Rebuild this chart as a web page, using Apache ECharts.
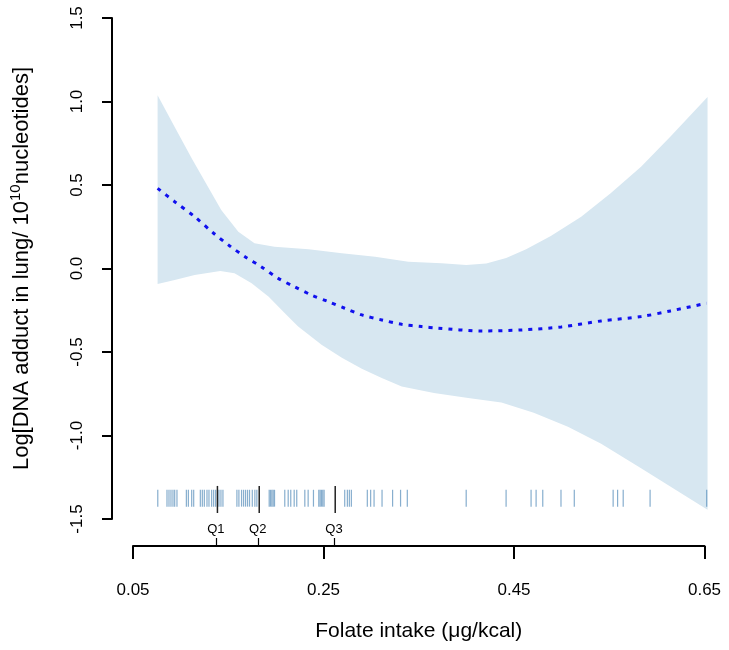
<!DOCTYPE html>
<html><head><meta charset="utf-8">
<script src="https://cdn.jsdelivr.net/npm/echarts@6/dist/echarts.min.js"></script>
<style>html,body{margin:0;padding:0;background:#fff}#c{width:729px;height:650px}</style>
</head><body><div id="c"></div>
<script>
const xTicks = [0.05, 0.25, 0.45, 0.65];
const yTicks = [-1.5, -1.0, -0.5, 0.0, 0.5, 1.0, 1.5];
const quartileX = [0.137, 0.181, 0.261];
const quartileLabels = ['Q1', 'Q2', 'Q3'];

const curveX = [0.074, 0.092, 0.113, 0.133, 0.150, 0.166, 0.183, 0.201, 0.218, 0.236, 0.254, 0.271, 0.289, 0.310, 0.331, 0.352, 0.369, 0.415, 0.457, 0.499, 0.541, 0.583, 0.614, 0.652];
const curveY = [0.480, 0.400, 0.310, 0.211, 0.135, 0.071, 0.011, -0.059, -0.109, -0.159, -0.199, -0.238, -0.278, -0.308, -0.334, -0.348, -0.357, -0.374, -0.368, -0.350, -0.314, -0.288, -0.254, -0.208];

const upperX = [0.074, 0.092, 0.110, 0.127, 0.141, 0.159, 0.176, 0.197, 0.233, 0.268, 0.303, 0.338, 0.373, 0.399, 0.420, 0.441, 0.462, 0.488, 0.520, 0.551, 0.583, 0.614, 0.653];
const upperY = [1.038, 0.848, 0.659, 0.489, 0.350, 0.220, 0.151, 0.130, 0.115, 0.091, 0.071, 0.041, 0.031, 0.021, 0.030, 0.063, 0.115, 0.195, 0.310, 0.450, 0.609, 0.790, 1.027];

const lowerX = [0.074, 0.092, 0.113, 0.140, 0.155, 0.173, 0.191, 0.208, 0.222, 0.247, 0.268, 0.289, 0.310, 0.331, 0.365, 0.401, 0.436, 0.470, 0.506, 0.541, 0.583, 0.653];
const lowerY = [-0.093, -0.069, -0.039, -0.015, -0.029, -0.089, -0.169, -0.268, -0.348, -0.458, -0.535, -0.601, -0.655, -0.707, -0.745, -0.776, -0.803, -0.864, -0.947, -1.049, -1.196, -1.444];

const rugX = [0.0742, 0.0839, 0.0860, 0.0881, 0.0902, 0.0920, 0.0944, 0.1043, 0.1064, 0.1099, 0.1120, 0.1190, 0.1211, 0.1232, 0.1260, 0.1281, 0.1309, 0.1330, 0.1351, 0.1386, 0.1407, 0.1428, 0.1575, 0.1596, 0.1624, 0.1645, 0.1666, 0.1687, 0.1708, 0.1737, 0.1764, 0.1785, 0.1915, 0.1929, 0.1943, 0.1957, 0.1971, 0.2079, 0.2115, 0.2142, 0.2178, 0.2205, 0.2290, 0.2325, 0.2381, 0.2437, 0.2451, 0.2465, 0.2479, 0.2493, 0.2710, 0.2738, 0.2759, 0.2780, 0.2948, 0.2983, 0.3019, 0.3103, 0.3214, 0.3298, 0.3369, 0.3989, 0.4409, 0.4672, 0.4725, 0.4795, 0.4987, 0.5127, 0.5536, 0.5583, 0.5642, 0.5925, 0.6521];

const FONT = '"Liberation Sans", Arial, Helvetica, sans-serif';
const RUG_TOP = -1.325, RUG_BOT = -1.426;
const Q_TOP = -1.302, Q_BOT = -1.464;

const chart = echarts.init(document.getElementById('c'), null, {renderer: 'canvas'});
const option = {
  animation: false,
  backgroundColor: '#fff',
  grid: [
    {left: 110, right: 1.5, top: 18, bottom: 131},
    {left: 133, right: 24.5, top: 520, bottom: 104}
  ],
  xAxis: [
    {gridIndex: 0, type: 'value', min: 0.026, max: 0.674, show: false},
    {gridIndex: 1, type: 'value', min: 0.05, max: 0.65, position: 'bottom',
     axisLine: {show: true, onZero: false, lineStyle: {color: '#000', width: 2}},
     axisTick: {show: true, length: 13, customValues: xTicks, lineStyle: {color: '#000', width: 2}},
     axisLabel: {customValues: xTicks, formatter: v => v.toFixed(2), margin: 36, fontSize: 17, color: '#000', fontFamily: FONT},
     splitLine: {show: false},
     name: 'Folate intake (μg/kcal)', nameLocation: 'middle', nameGap: 75,
     nameTextStyle: {fontSize: 21, color: '#000', fontFamily: FONT}},
    {gridIndex: 1, type: 'value', min: 0.05, max: 0.65, position: 'bottom',
     axisLine: {show: false, onZero: false},
     axisTick: {show: true, inside: true, length: 8, customValues: quartileX, lineStyle: {color: '#000', width: 1.2}},
     axisLabel: {inside: true, customValues: quartileX, margin: 10, fontSize: 13, color: '#000', fontFamily: FONT,
       formatter: v => { for (let i = 0; i < quartileX.length; i++) { if (Math.abs(v - quartileX[i]) < 1e-9) return quartileLabels[i]; } return ''; }},
     splitLine: {show: false}}
  ],
  yAxis: [
    {gridIndex: 0, type: 'value', min: -1.5, max: 1.5,
     axisLine: {show: true, onZero: false, lineStyle: {color: '#000', width: 2}},
     axisTick: {show: true, length: 10, customValues: yTicks, lineStyle: {color: '#000', width: 2}},
     axisLabel: {customValues: yTicks, rotate: 90, formatter: v => v.toFixed(1), margin: 26, fontSize: 17, color: '#000', fontFamily: FONT},
     splitLine: {show: false},
     name: '{a|Log[DNA adduct in lung/ 10}{s|10}{a|nucleotides]}',
     nameLocation: 'middle', nameGap: 77, nameRotate: 90,
     nameTextStyle: {color: '#000', fontFamily: FONT, fontSize: 22,
       rich: {
         a: {fontSize: 22, fontFamily: FONT, color: '#000', lineHeight: 27, verticalAlign: 'middle'},
         s: {fontSize: 15, fontFamily: FONT, color: '#000', lineHeight: 12, verticalAlign: 'top'}
       }}},
    {gridIndex: 1, type: 'value', min: 0, max: 1, show: false}
  ],
  series: [
    {type: 'custom', xAxisIndex: 0, yAxisIndex: 0, silent: true, z: 1,
     data: [[0, 0]],
     renderItem: (params, api) => {
       const pts = [];
       for (let i = 0; i < upperX.length; i++) pts.push(api.coord([upperX[i], upperY[i]]));
       for (let i = lowerX.length - 1; i >= 0; i--) pts.push(api.coord([lowerX[i], lowerY[i]]));
       return {type: 'polygon', shape: {points: pts}, style: {fill: '#d7e7f1', stroke: null}};
     }},
    {type: 'line', xAxisIndex: 0, yAxisIndex: 0, silent: true, z: 3, smooth: 0.3, symbol: 'none',
     data: curveX.map((x, i) => [x, curveY[i]]),
     lineStyle: {color: '#1010ee', width: 3, type: [4, 6]}},
    {type: 'custom', xAxisIndex: 0, yAxisIndex: 0, silent: true, z: 2,
     data: rugX.map(x => [x, 0]),
     renderItem: (params, api) => {
       const a = api.coord([api.value(0), RUG_TOP]);
       const b = api.coord([api.value(0), RUG_BOT]);
       return {type: 'line', shape: {x1: a[0], y1: a[1], x2: b[0], y2: b[1]}, style: {stroke: 'rgba(70,130,180,0.65)', lineWidth: 1.2}};
     }},
    {type: 'custom', xAxisIndex: 0, yAxisIndex: 0, silent: true, z: 4,
     data: quartileX.map(x => [x, 0]),
     renderItem: (params, api) => {
       const a = api.coord([api.value(0), Q_TOP]);
       const b = api.coord([api.value(0), Q_BOT]);
       return {type: 'line', shape: {x1: a[0], y1: a[1], x2: b[0], y2: b[1]}, style: {stroke: '#222', lineWidth: 1.5}};
     }}
  ]
};
chart.setOption(option);
</script>
</body></html>
